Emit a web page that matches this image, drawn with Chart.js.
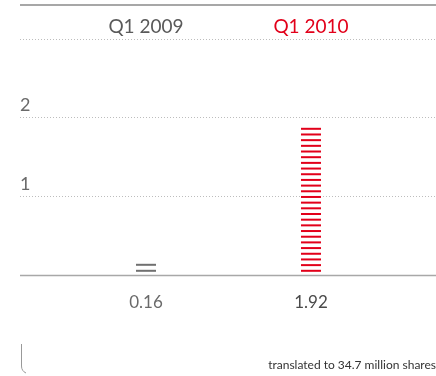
<!DOCTYPE html>
<html><head><meta charset="utf-8">
<script src="https://cdn.jsdelivr.net/npm/chart.js@4"></script>
<style>html,body{margin:0;padding:0;background:#fff}#wrap{width:436px;height:376px}</style>
</head><body><div id="wrap"><canvas id="c"></canvas></div>
<script>
const categories = ['Q1 2009', 'Q1 2010'];
const values = [0.16, 1.92];
const valueLabels = ['0.16', '1.92'];
const yTicks = [0, 1, 2, 3];
const yLabelled = [1, 2];
const footnote = 'translated to 34.7 million shares';

const catColors = ['#5a5a5a', '#e2001a'];
const barColors = ['#707070', '#e2001a'];
const valueColors = ['#6a6a6a', '#4a4a4a'];
const valueWeights = ['normal', 'normal'];
const FONT = 'Lato, "Open Sans", sans-serif';

const positions = categories.map((_, i) => i);
const X_MIN = -0.7636, X_MAX = 1.7576;

const stripePlugin = {
  id: 'stripes',
  afterDatasetsDraw(chart) {
    const ctx = chart.ctx;
    const meta = chart.getDatasetMeta(0);
    meta.data.forEach((bar, i) => {
      const p = bar.getProps(['x', 'y', 'base', 'width'], true);
      const step = (i === 0) ? 6 : 5.68;
      ctx.save();
      ctx.fillStyle = barColors[i];
      for (let yy = p.base - 4.3; yy >= p.y - 0.5; yy -= step) {
        ctx.fillRect(p.x - p.width / 2, yy - 1, p.width, 2);
      }
      ctx.restore();
    });
  }
};

const decoPlugin = {
  id: 'deco',
  afterDraw(chart) {
    const ctx = chart.ctx;
    const ca = chart.chartArea;
    const y0 = chart.scales.y.getPixelForValue(0);
    ctx.save();
    ctx.strokeStyle = '#a8a8a8';
    ctx.lineWidth = 1.5;
    ctx.beginPath(); ctx.moveTo(ca.left, y0); ctx.lineTo(ca.right, y0); ctx.stroke();
    const t = chart.scales.x.top;
    ctx.strokeStyle = '#8a8a8a';
    ctx.lineWidth = 1.5;
    ctx.beginPath(); ctx.moveTo(ca.left, t); ctx.lineTo(ca.right, t); ctx.stroke();
    ctx.strokeStyle = '#999';
    ctx.lineWidth = 1;
    ctx.beginPath();
    ctx.moveTo(21.5, 344);
    ctx.lineTo(21.5, 366);
    ctx.quadraticCurveTo(21.5, 371, 26, 373);
    ctx.stroke();
    ctx.restore();
  }
};

new Chart(document.getElementById('c'), {
  type: 'bar',
  data: {
    datasets: [{
      data: values.map((v, i) => ({ x: positions[i], y: v })),
      backgroundColor: 'rgba(0,0,0,0)',
      borderWidth: 0,
      barThickness: 20
    }]
  },
  plugins: [stripePlugin, decoPlugin],
  options: {
    responsive: true,
    maintainAspectRatio: false,
    animation: false,
    layout: { padding: { left: 20, right: 0, top: 5, bottom: 0 } },
    plugins: {
      legend: { display: false },
      tooltip: { enabled: false },
      title: {
        display: true,
        text: footnote,
        position: 'bottom',
        align: 'end',
        color: '#333',
        font: { family: FONT, size: 12, weight: 'normal' },
        padding: { top: 20, bottom: 4 }
      }
    },
    scales: {
      x: {
        type: 'linear',
        position: 'top',
        offset: false,
        min: X_MIN, max: X_MAX,
        afterBuildTicks: s => { s.ticks = positions.map(v => ({ value: v })); },
        afterFit: s => { s.height = 34; },
        grid: { display: false, drawTicks: false, offset: false },
        border: { display: false },
        ticks: {
          padding: 1,
          autoSkip: false,
          maxRotation: 0,
          callback: v => categories[v] ?? '',
          color: c => catColors[c.index],
          font: { family: FONT, size: 19, weight: 'normal' }
        }
      },
      x2: {
        type: 'linear',
        position: 'bottom',
        offset: false,
        min: X_MIN, max: X_MAX,
        afterBuildTicks: s => { s.ticks = positions.map(v => ({ value: v })); },
        afterFit: s => { s.height = 62; },
        grid: { display: false, drawTicks: false, offset: false },
        border: { display: false },
        ticks: {
          padding: 17,
          autoSkip: false,
          maxRotation: 0,
          callback: v => valueLabels[v] ?? '',
          color: c => valueColors[c.index],
          font: c => ({ family: FONT, size: 17, weight: valueWeights[c.index] })
        }
      },
      y: {
        min: 0, max: 3,
        afterBuildTicks: s => { s.ticks = yTicks.map(v => ({ value: v })); },
        afterFit: s => { s.width = 0; },
        grid: { color: '#bdbdbd', lineWidth: 1, drawTicks: false },
        border: { display: false, dash: [1, 2] },
        ticks: {
          mirror: true,
          padding: 0,
          labelOffset: -13,
          callback: v => yLabelled.includes(v) ? String(v) : '',
          color: '#6a6a6a',
          font: { family: FONT, size: 18, weight: 'normal' }
        }
      }
    }
  }
});
</script>
</body></html>
